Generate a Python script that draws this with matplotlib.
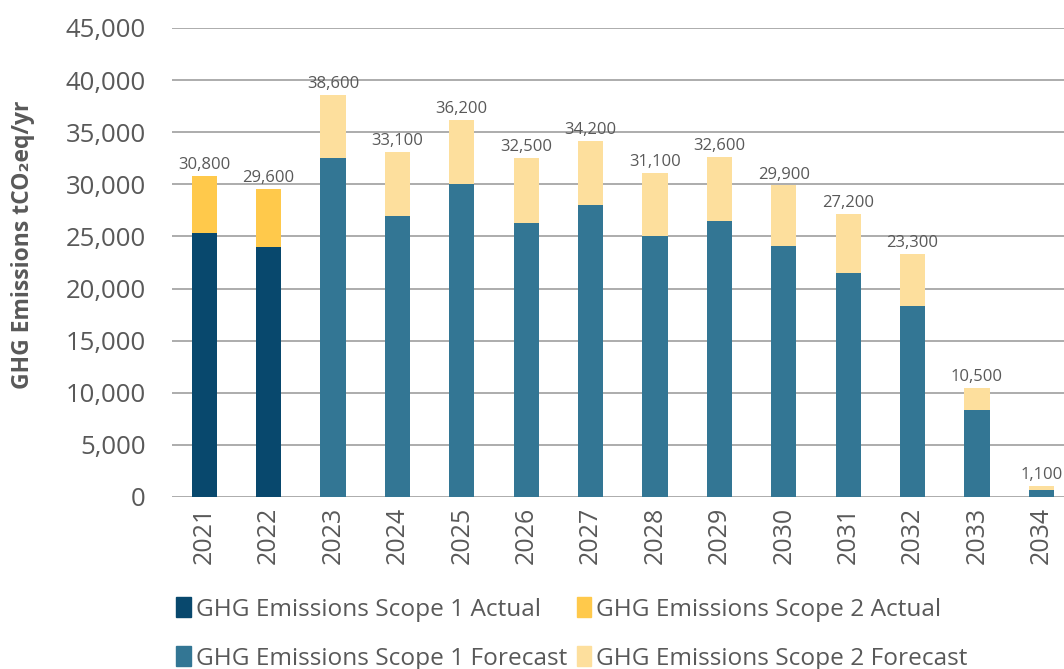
import numpy as np
import matplotlib
matplotlib.use('Agg')
import matplotlib.pyplot as plt
from matplotlib.patches import Patch

plt.rcParams['font.family'] = ['Open Sans', 'DejaVu Sans']

# ── Data (tCO2eq/yr) ──
years = ['2021', '2022', '2023', '2024', '2025', '2026', '2027',
         '2028', '2029', '2030', '2031', '2032', '2033', '2034']
totals = [30800, 29600, 38600, 33100, 36200, 32500, 34200,
          31100, 32600, 29900, 27200, 23300, 10500, 1100]
scope1 = [25300, 24000, 32500, 27000, 30000, 26300, 28000,
          25000, 26500, 24100, 21500, 18300, 8300, 700]
n_actual = 2   # first two years are actuals, rest forecast

scope1 = np.array(scope1)
scope2 = np.array(totals) - scope1

c_s1_act = '#08486D'
c_s2_act = '#FFC94B'
c_s1_fc = '#337694'
c_s2_fc = '#FDDF9D'
txt = '#595959'

x = np.arange(len(years))
is_act = x < n_actual
c1 = [c_s1_act if a else c_s1_fc for a in is_act]
c2 = [c_s2_act if a else c_s2_fc for a in is_act]

fig = plt.figure(figsize=(10.64, 6.69), dpi=100)
ax = fig.add_axes([172 / 1064, 172 / 669, 14 * 64.4 / 1064, 469 / 669])

w = 0.39
ax.bar(x, scope1, width=w, color=c1, zorder=3)
ax.bar(x, scope2, width=w, bottom=scope1, color=c2, zorder=3)

for xi, tot in zip(x, totals):
    ax.annotate(f'{tot:,}', (xi, tot), xytext=(0, 2), textcoords='offset points',
                ha='center', va='bottom', fontsize=12, color=txt)

ax.set_xlim(-0.5, len(years) - 0.5)
ax.set_ylim(0, 45000)
ax.set_yticks(np.arange(0, 45001, 5000))
ax.set_yticklabels([f'{v:,}' for v in range(0, 45001, 5000)])
ax.set_xticks(x)
ax.set_xticklabels(years, rotation=90)
ax.tick_params(axis='y', length=0, pad=19, labelsize=18.5, labelcolor=txt)
ax.tick_params(axis='x', length=0, pad=7, labelsize=18, labelcolor=txt)
ax.grid(axis='y', color='#A6A6A6', linewidth=1.3, zorder=0)
for s in ax.spines.values():
    s.set_visible(False)

ax.set_ylabel('GHG Emissions tCO₂eq/yr', fontsize=16.5, fontweight='bold',
              color=txt)
ax.yaxis.set_label_coords(-0.152, 0.537)

handles = [Patch(color=c_s1_act), Patch(color=c_s1_fc),
           Patch(color=c_s2_act), Patch(color=c_s2_fc)]
labels = ['GHG Emissions Scope 1 Actual', 'GHG Emissions Scope 1 Forecast',
          'GHG Emissions Scope 2 Actual', 'GHG Emissions Scope 2 Forecast']
fig.legend(handles, labels, ncol=2, loc='upper left',
           bbox_to_anchor=(176 / 1064, 1 - 597 / 669), frameon=False,
           fontsize=17.6, handlelength=0.6, handleheight=0.9, handletextpad=0.2,
           columnspacing=0.4, labelspacing=1.0, borderpad=0, borderaxespad=0,
           labelcolor=txt)

fig.savefig('out.png', dpi=100)
